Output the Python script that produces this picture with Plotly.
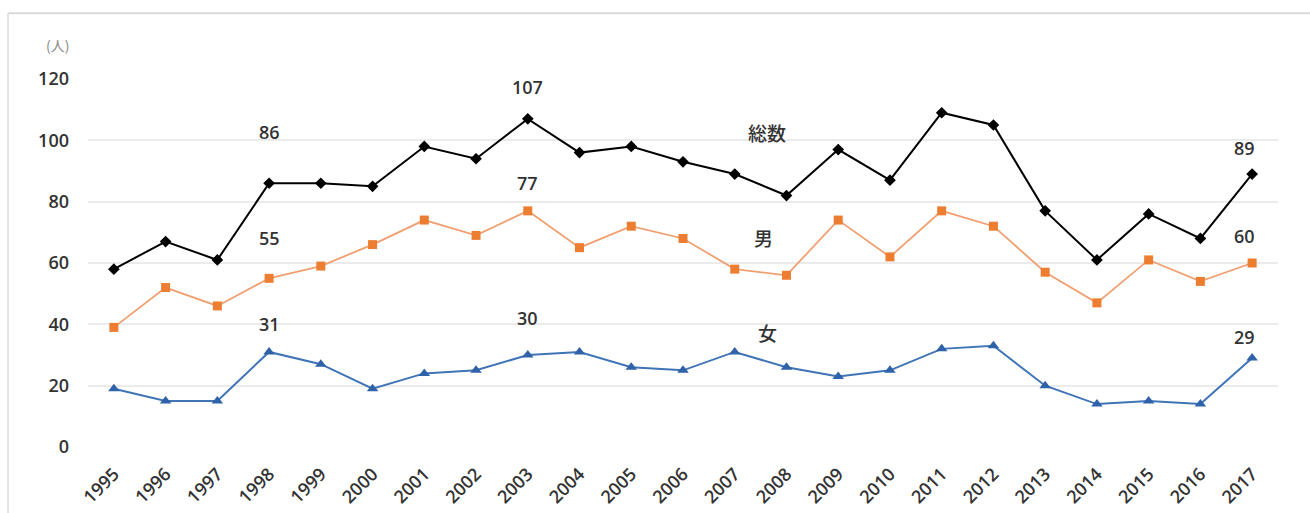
import plotly.graph_objects as go

# 年次
years = list(range(1995, 2018))

# 人数（人）
total = [58, 67, 61, 86, 86, 85, 98, 94, 107, 96, 98, 93, 89, 82, 97, 87, 109, 105, 77, 61, 76, 68, 89]
male = [39, 52, 46, 55, 59, 66, 74, 69, 77, 65, 72, 68, 58, 56, 74, 62, 77, 72, 57, 47, 61, 54, 60]
female = [19, 15, 15, 31, 27, 19, 24, 25, 30, 31, 26, 25, 31, 26, 23, 25, 32, 33, 20, 14, 15, 14, 29]

series_names = ["総数", "男", "女"]
y_ticks = [0, 20, 40, 60, 80, 100, 120]

# 数値ラベルを付ける年
labeled_years = [1998, 2003, 2017]

text_font = dict(family="Open Sans, DejaVu Sans, Noto Sans CJK JP", size=18, color="#333333", weight=600)
xtick_font = dict(text_font, size=18)

fig = go.Figure()

fig.add_trace(go.Scatter(
    x=years, y=total, mode="lines+markers", name=series_names[0],
    line=dict(color="#000000", width=2),
    marker=dict(symbol="diamond", size=9, color="#000000"),
))
fig.add_trace(go.Scatter(
    x=years, y=male, mode="lines+markers", name=series_names[1],
    line=dict(color="#F0A070", width=1.8),
    marker=dict(symbol="square", size=9, color="#ED7D31"),
))
fig.add_trace(go.Scatter(
    x=years, y=female, mode="lines+markers", name=series_names[2],
    line=dict(color="#3F74B6", width=2),
    marker=dict(symbol="triangle-up", size=10, color="#2F62A8"),
))

# 数値ラベル（系列ごとの上方向オフセット）
shifts = {
    0: {1998: 51, 2003: 32, 2017: 26},
    1: {1998: 40, 2003: 28, 2017: 27},
    2: {1998: 28, 2003: 37, 2017: 21},
}
xshifts = {1998: 0, 2003: 0, 2017: -8}
annotations = []
for si, vals in enumerate([total, male, female]):
    for yr in labeled_years:
        v = vals[years.index(yr)]
        annotations.append(dict(
            x=yr, y=v, xref="x", yref="y", text=str(v), showarrow=False,
            yshift=shifts[si][yr], xshift=xshifts[yr], font=text_font,
        ))

# 系列名ラベル
name_pos = [(2007.62, 102.4), (2007.55, 68.2), (2007.64, 37.2)]
for name, (nx, ny) in zip(series_names, name_pos):
    annotations.append(dict(
        x=nx, y=ny, xref="x", yref="y", text=name, showarrow=False,
        font=dict(family="Noto Sans CJK JP", size=19, color="#333333", weight=500),
    ))

# 単位
annotations.append(dict(
    x=-0.026, y=1.092, xref="paper", yref="paper", xanchor="center", yanchor="middle",
    text="(人)", showarrow=False,
    font=dict(family="Noto Sans CJK JP", size=14, color="#8A8A8A"),
))

fig.update_layout(
    width=1310, height=513,
    margin=dict(l=88, r=32, t=79, b=66, autoexpand=False),
    paper_bgcolor="white", plot_bgcolor="white",
    showlegend=False,
    annotations=annotations,
    shapes=[
        dict(type="line", xref="paper", yref="paper", x0=-0.0672, x1=1.05, y0=1.179, y1=1.179,
             line=dict(color="#D9D9D9", width=2)),
        dict(type="line", xref="paper", yref="paper", x0=-0.0672, x1=-0.0672, y0=1.179, y1=-0.2,
             line=dict(color="#E3E3E3", width=2)),
    ],
)

fig.update_xaxes(
    range=[1994.5, 2017.5], tickmode="array", tickvals=years, ticktext=[str(y) for y in years],
    tickangle=-45, showgrid=False, zeroline=False, showline=False, ticks="",
    tickfont=xtick_font, ticklabelstandoff=12, automargin=False,
)
fig.update_yaxes(
    range=[0, 120], tickmode="array", tickvals=y_ticks,
    showgrid=True, gridcolor="#EBEBEB", gridwidth=1.5, zeroline=False, showline=False,
    ticks="", tickfont=text_font, ticklabelstandoff=18, automargin=False,
)

fig.write_html("out.html")
